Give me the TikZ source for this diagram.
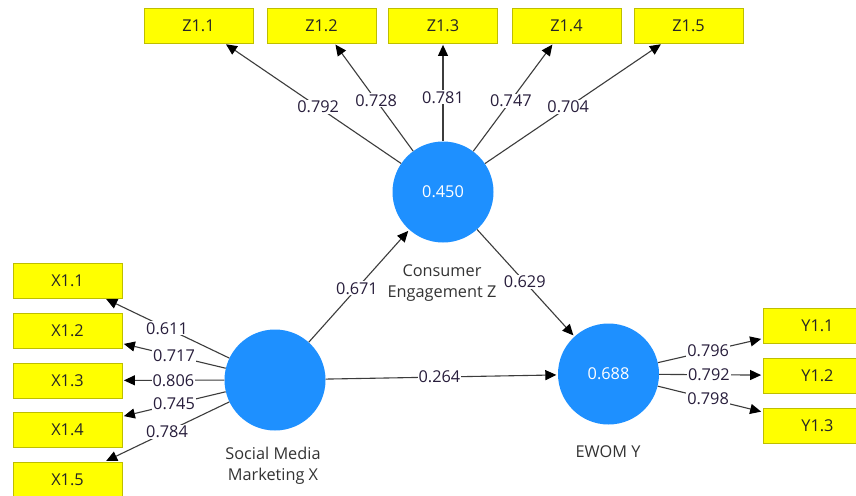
\documentclass[tikz,border=0pt]{standalone}
\usepackage{fontspec}
\setmainfont{Open Sans}
\usetikzlibrary{arrows.meta}
\definecolor{lvblue}{RGB}{30,144,255}
\definecolor{mvyellow}{RGB}{255,255,0}
\definecolor{mvborder}{RGB}{190,190,0}
\definecolor{edgegray}{RGB}{60,60,60}
\definecolor{labeltext}{RGB}{40,30,60}
\begin{document}
\begin{tikzpicture}[x=1pt,y=-1pt,
  every node/.style={font=\fontsize{16.3}{21}\selectfont},
  latent/.style={circle, fill=lvblue, draw=none, minimum size=101pt, inner sep=0pt, text=white},
  indicator/.style={rectangle, fill=mvyellow, draw=mvborder, line width=0.8pt, minimum width=109pt, minimum height=35pt, inner sep=0pt, text=black!85},
  link/.style={draw=edgegray, line width=1.1pt, -{Triangle[length=11pt,width=10pt,color=black]}, shorten >=1.5pt},
  coef/.style={fill=white, inner sep=1pt, text=labeltext},
  lvname/.style={align=center, text=black!80}
]
\useasboundingbox[fill=white] (0,0) rectangle (856,495);

% latent variables
\node[latent] (Z) at (443,192) {0.450};
\node[latent] (X) at (275,380) {};
\node[latent] (Y) at (608.5,374) {0.688};

\node[lvname] (Zname) at (442,283) {Consumer\\Engagement Z};
\node[lvname] (Xname) at (273,466) {Social Media\\Marketing X};
\node[lvname] (Yname) at (608,452) {EWOM Y};

% indicators
\node[indicator] (Z11) at (198.5,25.5) {Z1.1};
\node[indicator] (Z12) at (321.5,25.5) {Z1.2};
\node[indicator] (Z13) at (443,25.5) {Z1.3};
\node[indicator] (Z14) at (566.5,25.5) {Z1.4};
\node[indicator] (Z15) at (688.5,25.5) {Z1.5};

\node[indicator] (X11) at (67.5,280.5) {X1.1};
\node[indicator] (X12) at (67.5,330.5) {X1.2};
\node[indicator] (X13) at (67.5,380.5) {X1.3};
\node[indicator] (X14) at (67.5,429.5) {X1.4};
\node[indicator] (X15) at (67.5,479.5) {X1.5};

\node[indicator] (Y11) at (817.5,326) {Y1.1};
\node[indicator] (Y12) at (817.5,375.5) {Y1.2};
\node[indicator] (Y13) at (817.5,425.5) {Y1.3};

% outer loadings Z
\draw[link] (Z) -- node[coef,pos=0.47] {0.792} (Z11);
\draw[link] (Z) -- node[coef,pos=0.47] {0.728} (Z12);
\draw[link] (Z) -- node[coef,pos=0.45] {0.781} (Z13);
\draw[link] (Z) -- node[coef,pos=0.47] {0.747} (Z14);
\draw[link] (Z) -- node[coef,pos=0.47] {0.704} (Z15);

% outer loadings X
\draw[link] (X) -- node[coef,pos=0.5] {0.611} (X11);
\draw[link] (X) -- node[coef,pos=0.5] {0.717} (X12);
\draw[link] (X) -- node[coef,pos=0.5] {0.806} (X13);
\draw[link] (X) -- node[coef,pos=0.5] {0.745} (X14);
\draw[link] (X) -- node[coef,pos=0.5] {0.784} (X15);

% outer loadings Y
\draw[link] (Y) -- node[coef,pos=0.48] {0.796} (Y11);
\draw[link] (Y) -- node[coef,pos=0.48] {0.792} (Y12);
\draw[link] (Y) -- node[coef,pos=0.48] {0.798} (Y13);

% structural paths
\draw[link] (X) -- node[coef,pos=0.48] {0.671} (Z);
\draw[link] (Z) -- node[coef,pos=0.49] {0.629} (Y);
\draw[link] (X) -- node[coef,pos=0.49] {0.264} (Y);
\end{tikzpicture}
\end{document}
